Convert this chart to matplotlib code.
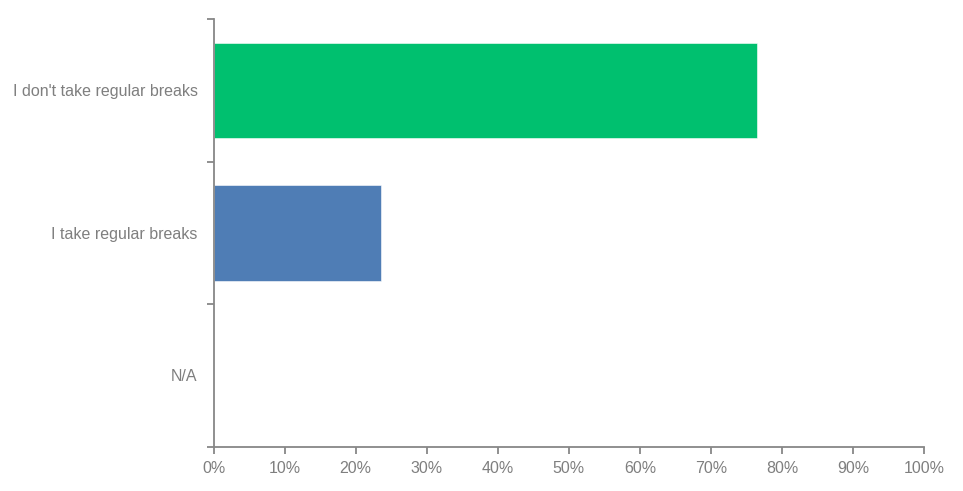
import matplotlib
matplotlib.use("Agg")
import matplotlib.pyplot as plt
from matplotlib.ticker import FixedLocator

categories = ["I don't take regular breaks", "I take regular breaks", "N/A"]
values = [76.5, 23.5, 0.0]
colors = ["#00C06F", "#4F7DB5", "#4F7DB5"]
xticks = list(range(0, 101, 10))
xticklabels = [f"{t}%" for t in xticks]

plt.rcParams['font.family'] = ['Liberation Sans', 'DejaVu Sans']

fig = plt.figure(figsize=(9.63, 4.91), dpi=100)
ax = fig.add_axes([213.5/963, (491-446.7)/491, (924.3-213.5)/963, (446.7-19)/491])

n = len(categories)
ypos = list(range(n))
for y, v, c in zip(ypos, values, colors):
    if v > 0:
        ax.barh(y, v, height=0.67, color=c, edgecolor="#ffffff", linewidth=0.4)

ax.set_xlim(0, 100)
ax.set_ylim(n - 0.5, -0.5)
ax.set_yticks(ypos)
ax.set_yticklabels(categories)
ax.yaxis.set_minor_locator(FixedLocator([i - 0.5 for i in range(n + 1)]))
ax.tick_params(axis='y', which='major', length=0, pad=11.5, labelsize=11.5, labelcolor="#7F7F7F")
ax.tick_params(axis='y', which='minor', length=5, width=1.3, color="#878787")
ax.set_xticks(xticks)
ax.set_xticklabels(xticklabels)
ax.tick_params(axis='x', which='major', length=5, width=1.3, color="#878787", pad=5,
               labelsize=11.5, labelcolor="#7F7F7F")

for s in ["top", "right"]:
    ax.spines[s].set_visible(False)
for s in ["left", "bottom"]:
    ax.spines[s].set_color("#878787")
    ax.spines[s].set_linewidth(1.3)

fig.savefig("out.png", dpi=100)
